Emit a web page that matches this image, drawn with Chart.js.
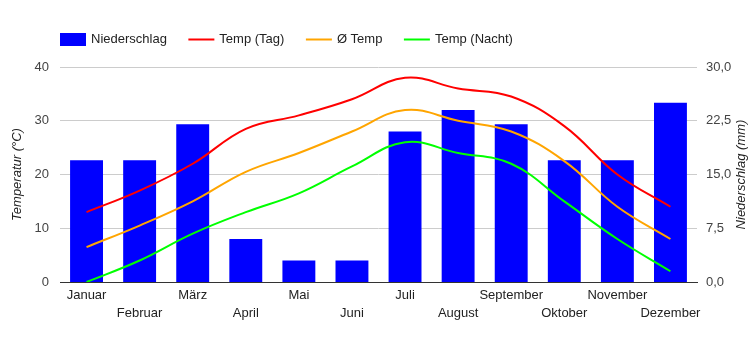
<!DOCTYPE html>
<html>
<head>
<meta charset="utf-8">
<script src="https://cdn.jsdelivr.net/npm/chart.js@4"></script>
<style>
  html, body { margin: 0; padding: 0; background: #fff; }
  #wrap { width: 750px; height: 350px; }
</style>
</head>
<body>
<div id="wrap"><canvas id="c" width="750" height="350"></canvas></div>
<script>
const months = ['Januar','Februar','März','April','Mai','Juni','Juli','August','September','Oktober','November','Dezember'];
const precipitation = [17, 17, 22, 6, 3, 3, 21, 24, 22, 17, 17, 25];
const tempDay = [13, 17, 22, 28.5, 31, 34, 38, 36, 34.5, 29, 20, 14];
const tempAvg = [6.5, 10.5, 15, 20.5, 24, 28, 32, 30, 28, 22.5, 14, 8];
const tempNight = [0, 4, 9, 13, 16.5, 21.5, 26, 24, 22, 15, 8, 2];
const tempAxisTitle = 'Temperatur (°C)';
const precipAxisTitle = 'Niederschlag (mm)';

const FONT = '"Liberation Sans", Arial, sans-serif';
Chart.defaults.font.family = FONT;
Chart.defaults.font.size = 13;

// alternate labels on two rows
const xLabels = months.map((m, i) => i % 2 === 0 ? [m, ''] : ['', m]);

const overlay = {
  id: 'overlay',
  afterDraw(chart) {
    const ctx = chart.ctx;
    const area = chart.chartArea;
    ctx.save();
    ctx.font = '13px ' + FONT;
    ctx.textBaseline = 'middle';
    ctx.textAlign = 'left';
    let x = 60; const y = 39.5;
    chart.data.datasets.forEach(ds => {
      if (ds.type === 'bar') {
        ctx.fillStyle = ds.backgroundColor;
        ctx.fillRect(x, 33, 26, 13);
      } else {
        ctx.strokeStyle = ds.borderColor;
        ctx.lineWidth = 2;
        ctx.beginPath();
        ctx.moveTo(x, y);
        ctx.lineTo(x + 26, y);
        ctx.stroke();
      }
      ctx.fillStyle = '#222';
      ctx.fillText(ds.label, x + 31, y);
      x += 31 + ctx.measureText(ds.label).width + 21.5;
    });
    ctx.font = 'italic 13px ' + FONT;
    ctx.textAlign = 'center';
    ctx.fillStyle = '#222';
    const cy = (area.top + area.bottom) / 2;
    ctx.save();
    ctx.translate(17, cy);
    ctx.rotate(-Math.PI / 2);
    ctx.fillText(tempAxisTitle, 0, 0);
    ctx.restore();
    ctx.save();
    ctx.translate(741, cy);
    ctx.rotate(-Math.PI / 2);
    ctx.fillText(precipAxisTitle, 0, 0);
    ctx.restore();
    ctx.restore();
  }
};

new Chart(document.getElementById('c'), {
  data: {
    labels: xLabels,
    datasets: [
      { type: 'bar', label: 'Niederschlag', data: precipitation, yAxisID: 'yP',
        backgroundColor: '#0000ff', borderWidth: 0, order: 5,
        categoryPercentage: 1, barPercentage: 0.62 },
      { type: 'line', label: 'Temp (Tag)', data: tempDay, yAxisID: 'yT',
        borderColor: '#ff0000', borderWidth: 2, pointRadius: 0, tension: 0.4, order: 1 },
      { type: 'line', label: 'Ø Temp', data: tempAvg, yAxisID: 'yT',
        borderColor: '#ffa500', borderWidth: 2, pointRadius: 0, tension: 0.4, order: 2 },
      { type: 'line', label: 'Temp (Nacht)', data: tempNight, yAxisID: 'yT',
        borderColor: '#00ff00', borderWidth: 2, pointRadius: 0, tension: 0.4, order: 3 }
    ]
  },
  options: {
    responsive: false,
    animation: false,
    events: [],
    layout: { padding: { top: 67, left: 0, right: 0, bottom: 0 } },
    plugins: { legend: { display: false }, tooltip: { enabled: false } },
    scales: {
      x: {
        offset: true,
        grid: { display: false, drawTicks: false },
        border: { display: true, color: '#333333', width: 1 },
        ticks: { color: '#222', autoSkip: false, maxRotation: 0, minRotation: 0, padding: 5,
                 font: { size: 13, lineHeight: 1.35 } },
        afterFit(s) { s.height = 68; }
      },
      yT: {
        position: 'left', min: 0, max: 40,
        ticks: { stepSize: 10, color: '#444', padding: 11 },
        grid: { color: '#cccccc', drawTicks: false },
        border: { display: false },
        afterFit(s) { s.width = 60; }
      },
      yP: {
        position: 'right', min: 0, max: 30,
        ticks: { stepSize: 7.5, color: '#444', padding: 9,
                 callback: v => v.toFixed(1).replace('.', ',') },
        grid: { display: false, drawTicks: false },
        border: { display: false },
        afterFit(s) { s.width = 53; }
      }
    }
  },
  plugins: [overlay]
});
</script>
</body>
</html>
